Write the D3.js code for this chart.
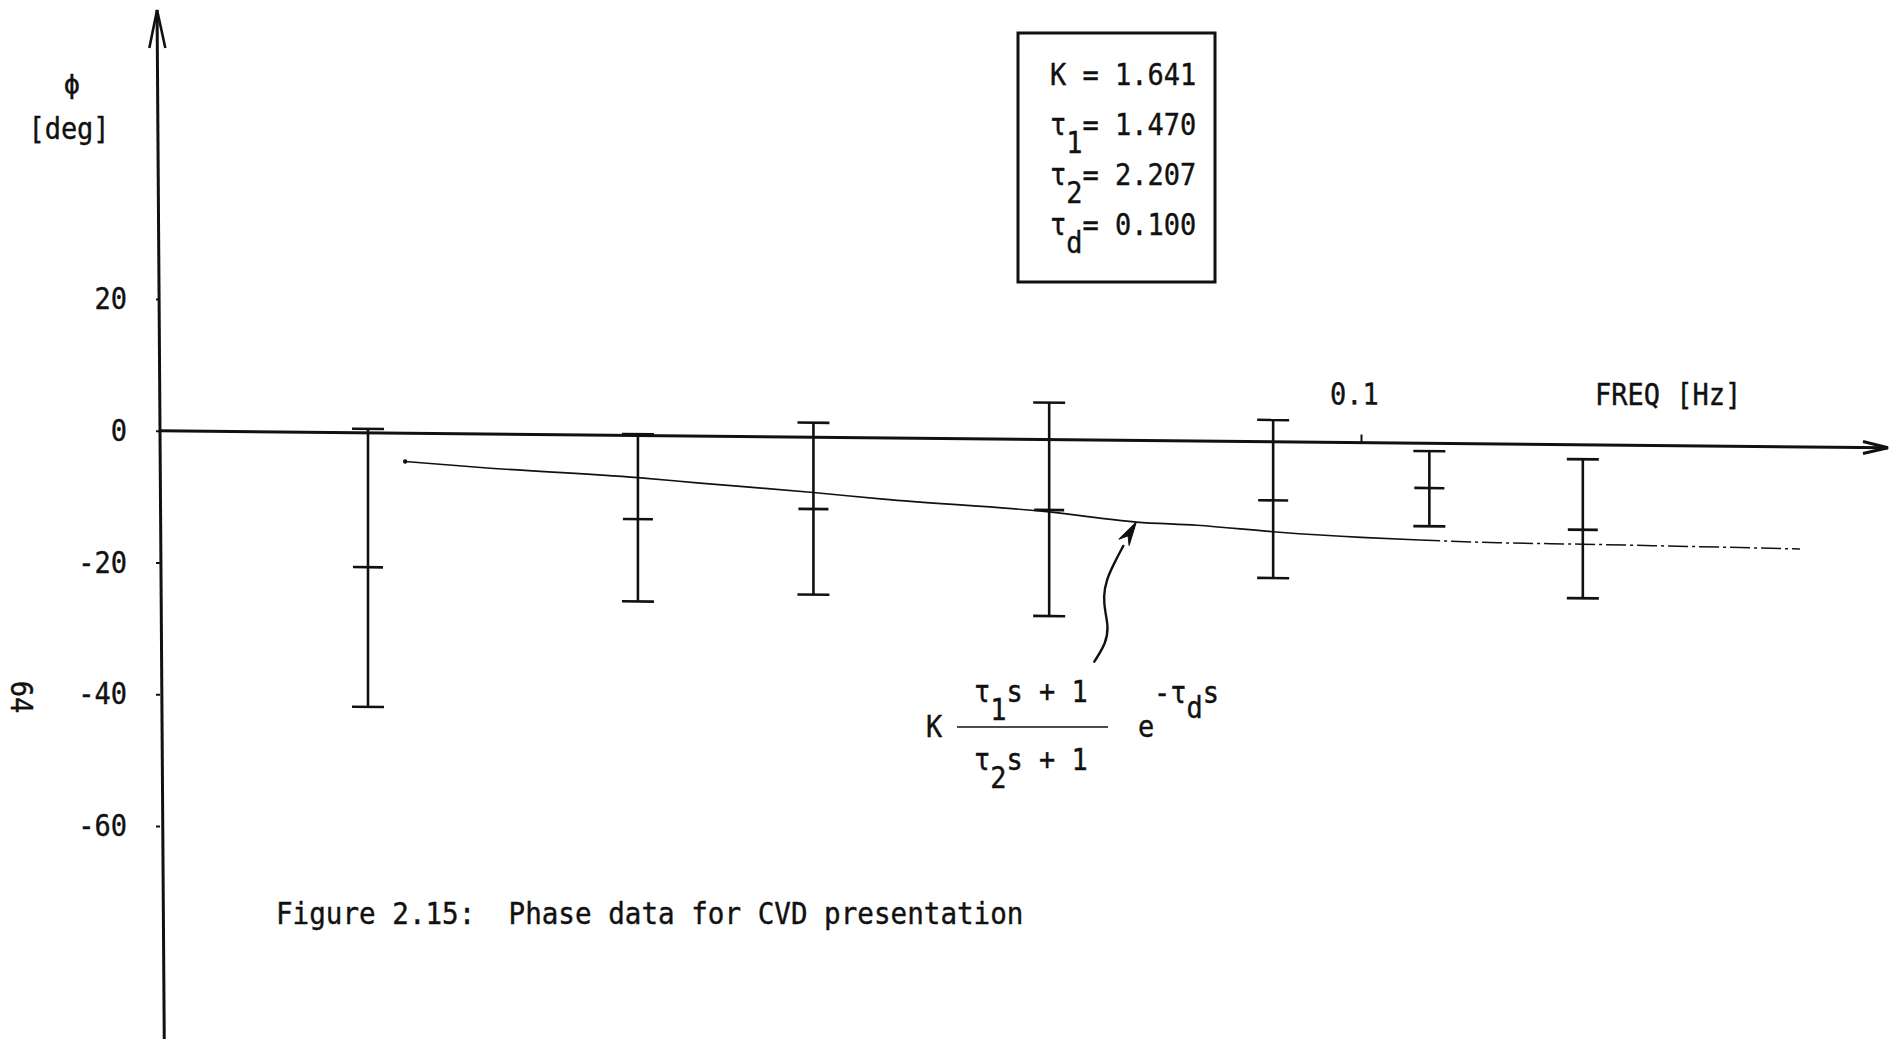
<!DOCTYPE html>
<html>
<head>
<meta charset="utf-8">
<script src="https://cdn.jsdelivr.net/npm/d3@7"></script>
<style>
  html, body { margin: 0; padding: 0; background: #fff; }
  svg { display: block; }
  text { font-family: "DejaVu Sans Mono", monospace; fill: #111; stroke: #111; stroke-width: 0.4px; }
</style>
</head>
<body>
<svg id="chart" width="1897" height="1039"></svg>
<script>
// Measured phase (deg) at each test frequency (Hz): upper end, mean, lower end
const freqHz    = [0.0149, 0.025, 0.035, 0.055, 0.0845, 0.114, 0.153];
const phaseHigh = [0.6, 0.2, 2.2, 5.6, 3.3, -1.2, -2.2];
const phaseMean = [-20.4, -12.7, -10.9, -10.7, -8.9, -6.8, -12.9];
const phaseLow  = [-41.6, -25.2, -23.9, -26.8, -20.7, -12.6, -23.3];

// Fitted lead-lag + delay model, phase (deg) vs frequency (Hz)
const modelFreqHz = [0.016, 0.0185, 0.025, 0.028, 0.035, 0.040, 0.055, 0.065, 0.073, 0.085, 0.100, 0.112, 0.130, 0.153, 0.232];
const modelPhase  = [-4.3, -5.1, -6.4, -7.1, -8.4, -9.3, -11.0, -12.4, -12.8, -13.7, -14.4, -14.7, -15.0, -15.1, -15.5];

// Model parameters shown in the box
const paramSymbol = ["K", "τ", "τ", "τ"];
const paramSub    = ["", "1", "2", "d"];
const paramValue  = [1.641, 1.470, 2.207, 0.100];

// Axis ticks
const phaseTicks = [20, 0, -20, -40, -60];
const freqTicks  = [0.1];

const W = 1897, H = 1039;
const ink = "#111";
const FS = 30;

const svg = d3.select("#chart");
svg.append("rect").attr("width", W).attr("height", H).attr("fill", "#fff");

const x = d3.scaleLog().domain([0.01, 0.1]).range([160, 1361]);
const y = d3.scaleLinear().domain([-60, 20]).range([826, 299]);
const x0 = x(0.01);
const xAxisEnd = W - 9;

// typewriter-style narrow monospace text
function typed(parent, px, py, sx) {
  return parent.append("text")
    .attr("transform", `translate(${px},${py}) scale(${sx || 0.9},1)`)
    .attr("font-size", FS)
    .attr("xml:space", "preserve")
    .style("white-space", "pre");
}
function withSub(t, base, sub, tail, shift) {
  t.append("tspan").text(base);
  if (sub) {
    t.append("tspan").attr("dy", shift).text(sub);
    t.append("tspan").attr("dy", -shift).text(tail);
  } else {
    t.append("tspan").text(tail);
  }
  return t;
}

// ---- plot area (hand-drawn abscissa drops slightly to the right)
const plot = svg.append("g")
  .attr("transform", `translate(${x0},0) skewY(0.564) translate(${-x0},0)`);

// frequency axis with arrow
plot.append("line")
  .attr("x1", x0).attr("x2", xAxisEnd)
  .attr("y1", y(0)).attr("y2", y(0))
  .attr("stroke", ink).attr("stroke-width", 3);
plot.append("path")
  .attr("d", `M${xAxisEnd - 25},${y(0) - 6}L${xAxisEnd},${y(0)}L${xAxisEnd - 25},${y(0) + 6}`)
  .attr("fill", "none").attr("stroke", ink).attr("stroke-width", 3)
  .attr("stroke-linejoin", "miter");

const xAxis = plot.append("g")
  .attr("transform", `translate(0,${y(0)})`)
  .call(d3.axisTop(x).tickValues(freqTicks).tickSize(8).tickPadding(30)
    .tickFormat(d3.format(".1f")));
xAxis.select(".domain").remove();
xAxis.selectAll(".tick line").attr("stroke", ink).attr("stroke-width", 2);
xAxis.selectAll(".tick text")
  .attr("font-size", FS).attr("fill", ink)
  .attr("dx", -7.8)
  .attr("transform", "scale(0.9,1)");

// error bars
const bars = plot.selectAll("g.bar")
  .data(freqHz.map((f, i) => ({ f, hi: phaseHigh[i], mid: phaseMean[i], lo: phaseLow[i] })))
  .join("g").attr("class", "bar")
  .attr("stroke", ink).attr("stroke-width", 2.6);
bars.append("line")
  .attr("x1", d => x(d.f)).attr("x2", d => x(d.f))
  .attr("y1", d => y(d.hi)).attr("y2", d => y(d.lo));
["hi", "lo"].forEach(k => {
  bars.append("line")
    .attr("x1", d => x(d.f) - 16).attr("x2", d => x(d.f) + 16)
    .attr("y1", d => y(d[k])).attr("y2", d => y(d[k]));
});
bars.append("line")
  .attr("x1", d => x(d.f) - 15).attr("x2", d => x(d.f) + 15)
  .attr("y1", d => y(d.mid)).attr("y2", d => y(d.mid));

// model curve (faint, broken trace at the high-frequency end)
const modelPts = modelFreqHz.map((f, i) => ({ f, p: modelPhase[i] }));
const modelLine = d3.line().x(d => x(d.f)).y(d => y(d.p)).curve(d3.curveMonotoneX);
const splitHz = 0.112;
plot.append("path")
  .datum(modelPts.filter(d => d.f <= splitHz))
  .attr("d", modelLine)
  .attr("fill", "none").attr("stroke", ink).attr("stroke-width", 1.7);
plot.append("path")
  .datum(modelPts.filter(d => d.f >= splitHz))
  .attr("d", modelLine)
  .attr("fill", "none").attr("stroke", ink).attr("stroke-width", 1.5)
  .attr("stroke-dasharray", "20 4 3 4");
plot.append("circle")
  .attr("cx", x(modelPts[0].f)).attr("cy", y(modelPts[0].p))
  .attr("r", 2.2).attr("fill", ink);

// wavy pointer from the transfer function to the curve
const tipPt = modelPts.find(d => d.f === 0.065);
const tx = x(tipPt.f), ty = y(tipPt.p);
const pointerOffsets = [[-42, 140], [-30, 121], [-28, 105], [-31, 91], [-33, 75],
                        [-30, 58], [-22, 41], [-13, 24]];
plot.append("path")
  .datum(pointerOffsets.map(([dx, dy]) => [tx + dx, ty + dy]))
  .attr("d", d3.line().curve(d3.curveBasis))
  .attr("fill", "none").attr("stroke", ink).attr("stroke-width", 2.4)
  .attr("stroke-linecap", "round");
{
  const ux = 15, uy = -25, len = Math.hypot(ux, uy);
  const u = [ux / len, uy / len], n = [-u[1], u[0]];
  const bx = tx - 24 * u[0], by = ty - 24 * u[1];
  plot.append("path")
    .attr("d", `M${tx},${ty}L${bx + 6 * n[0]},${by + 6 * n[1]}L${bx + 8 * u[0]},${by + 8 * u[1]}L${bx - 6 * n[0]},${by - 6 * n[1]}Z`)
    .attr("fill", ink).attr("stroke", ink).attr("stroke-width", 1);
}

// ---- phase axis (drawn with a slight lean)
const yLine = svg.append("g")
  .attr("transform", `translate(${x0},${y(0)}) skewX(0.4) translate(${-x0},${-y(0)})`);
yLine.append("line")
  .attr("x1", x0).attr("x2", x0).attr("y1", 10).attr("y2", H)
  .attr("stroke", ink).attr("stroke-width", 3);
yLine.append("path")
  .attr("d", `M${x0 - 8},48L${x0},10L${x0 + 8},48`)
  .attr("fill", "none").attr("stroke", ink).attr("stroke-width", 2.6);

const yAxis = svg.append("g")
  .attr("transform", `translate(${x0},0)`)
  .call(d3.axisLeft(y).tickValues(phaseTicks).tickSize(4).tickPadding(32.7)
    .tickFormat(d => String(d)));
yAxis.select(".domain").remove();
yAxis.selectAll(".tick line").attr("stroke", ink).attr("stroke-width", 2);
yAxis.selectAll(".tick text")
  .attr("font-size", FS).attr("fill", ink)
  .attr("transform", "scale(0.9,1)");

// axis titles
svg.append("text").attr("x", 72).attr("y", 93)
  .attr("text-anchor", "middle").attr("font-size", 27).text("ϕ");
typed(svg, 69, 139).attr("text-anchor", "middle").text("[deg]");
typed(svg, 1595, 405).text("FREQ [Hz]");

// parameter box
svg.append("rect")
  .attr("x", 1018).attr("y", 33).attr("width", 197).attr("height", 249)
  .attr("fill", "none").attr("stroke", ink).attr("stroke-width", 3);
paramSymbol.forEach((s, i) => {
  const t = typed(svg, 1050, 85 + 50 * i);
  const tail = (paramSub[i] ? "" : " ") + "= " + d3.format(".3f")(paramValue[i]);
  withSub(t, s, paramSub[i], tail, 18);
});

// transfer function  K (τ1 s + 1)/(τ2 s + 1) e^(-τd s)
typed(svg, 926, 737).text("K");
svg.append("line").attr("x1", 957).attr("x2", 1108).attr("y1", 727).attr("y2", 727)
  .attr("stroke", ink).attr("stroke-width", 1.6);
withSub(typed(svg, 974, 702), "τ", "1", "s + 1", 18);
withSub(typed(svg, 974, 770), "τ", "2", "s + 1", 18);
typed(svg, 1138, 737).text("e");
withSub(typed(svg, 1154, 703), "-τ", "d", "s", 15);

// caption
typed(svg, 276, 924, 0.92).text("Figure 2.15:  Phase data for CVD presentation");

// page number
svg.append("text")
  .attr("transform", "translate(11,697) rotate(90) scale(0.9,1)")
  .attr("text-anchor", "middle").attr("font-size", FS).text("64");
</script>
</body>
</html>
